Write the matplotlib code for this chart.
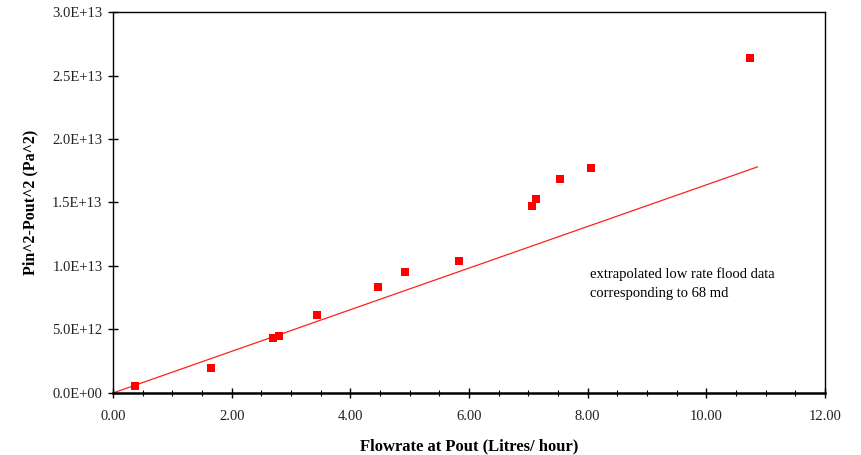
import matplotlib.pyplot as plt
from matplotlib.ticker import MultipleLocator, FormatStrFormatter, FuncFormatter

# measured points
flow = [0.37, 1.65, 2.70, 2.80, 3.44, 4.47, 4.92, 5.83, 7.06, 7.13, 7.53, 8.06, 10.74]
dp2 = [0.55e12, 1.97e12, 4.33e12, 4.49e12, 6.14e12, 8.35e12, 9.53e12, 10.4e12,
       14.75e12, 15.25e12, 16.83e12, 17.7e12, 26.35e12]

# extrapolated low rate line
line_x = [0.0, 10.86]
line_y = [0.0, 17.8e12]

plt.rcParams['font.family'] = ['Liberation Serif', 'DejaVu Serif']

fig = plt.figure(figsize=(8.61, 4.55), dpi=100)
ax = fig.add_axes([0.1312, 0.1363, 0.827, 0.8373])

ax.plot(line_x, line_y, color='#ff2020', lw=0.9)
ax.scatter(flow, dp2, marker='s', s=30, color='#ff0000', zorder=3, linewidths=0)

ax.set_xlim(0, 12)
ax.set_ylim(0, 3.0e13)
ax.xaxis.set_major_locator(MultipleLocator(2))
ax.xaxis.set_minor_locator(MultipleLocator(0.5))
ax.xaxis.set_major_formatter(FormatStrFormatter('%.2f'))
ax.yaxis.set_major_locator(MultipleLocator(5e12))


def sci(v, pos):
    if v == 0:
        return '0.0E+00'
    return '%.1E' % v


ax.yaxis.set_major_formatter(FuncFormatter(sci))

ax.tick_params(which='major', direction='inout', length=7, width=1, labelsize=10.5,
               colors='black', pad=4)
ax.tick_params(which='minor', direction='inout', length=4, width=0.8)
ax.tick_params(axis='y', labelcolor='#222222')
ax.tick_params(axis='x', labelcolor='#222222', pad=9)
for s in ax.spines.values():
    s.set_linewidth(1)
ax.spines['bottom'].set_linewidth(1.8)

ax.set_xlabel('Flowrate at Pout (Litres/ hour)', fontsize=12, fontweight='bold', labelpad=11)
ax.set_ylabel('Pin^2-Pout^2 (Pa^2)', fontsize=11.5, fontweight='bold', labelpad=10)

ax.text(8.04, 0.86e13, 'extrapolated low rate flood data\ncorresponding to 68 md',
        fontsize=10.5, va='center', ha='left', linespacing=1.6)

fig.savefig('out.png', dpi=100)
